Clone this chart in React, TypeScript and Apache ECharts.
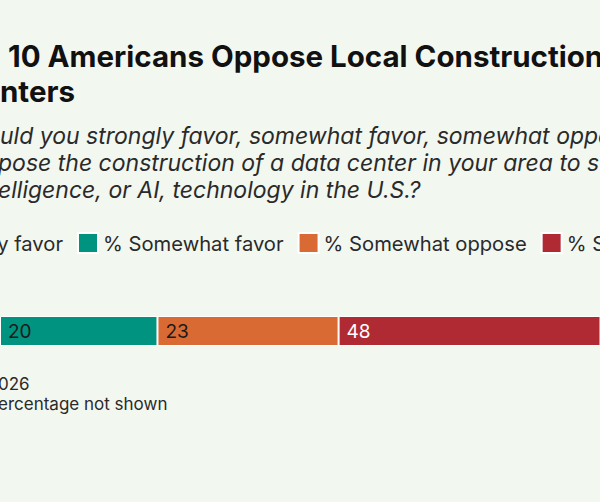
import React, { useEffect, useRef } from "react";
import * as echarts from "echarts";

const seriesNames = ["% Strongly favor", "% Somewhat favor", "% Somewhat oppose", "% Strongly oppose"];
const seriesValues = [7, 20, 23, 48];
const seriesColors = ["#5fb8a4", "#00937f", "#d96a33", "#b02a34"];
const labelColors = ["#1a1a1a", "#1a1a1a", "#1a1a1a", "#ffffff"];
const categories = ["All adults"];
const titleLines = ["10 Americans Oppose Local Construction", "nters"];
const subtitleLines = [
  "uld you strongly favor, somewhat favor, somewhat oppo",
  "pose the construction of a data center in your area to s",
  "elligence, or AI, technology in the U.S.?",
];
const footerLines = ["026", "ercentage not shown"];

const BG = "#f2f7f0";
const FONT = "Inter";

function measure(text: string, font: string): number {
  const c = document.createElement("canvas").getContext("2d");
  if (!c) return text.length * 10;
  c.font = font;
  return c.measureText(text).width;
}

export default function App() {
  const ref = useRef<HTMLDivElement>(null);
  useEffect(() => {
    if (!ref.current) return;
    const chart = echarts.init(ref.current, null, { renderer: "svg" });
    const legendFontSize = 20.2;
    const firstW = measure(seriesNames[0], `${legendFontSize}px ${FONT}`);
    const iconW = 20;
    const gap = 14;
    const legendLeft = 76 - (iconW + 5 + firstW + gap);

    chart.setOption({
      animation: false,
      backgroundColor: BG,
      graphic: [
        ...titleLines.map((t, i) => ({
          type: "text",
          left: i === 0 ? 8 : 0,
          top: i === 0 ? 41 : 76,
          style: { text: t, font: `bold 29.5px ${FONT}`, fill: "#111111" },
        })),
        ...subtitleLines.map((t, i) => ({
          type: "text",
          left: i === 0 ? 0 : -2,
          top: 124 + i * 27,
          style: { text: t, font: `italic 23px ${FONT}`, fill: "#2a2a2a" },
        })),
        ...footerLines.map((t, i) => ({
          type: "text",
          left: -2,
          top: 375 + i * 20,
          style: { text: t, font: `17px ${FONT}`, fill: "#2a2a2a" },
        })),
      ],
      legend: {
        left: legendLeft,
        top: 232,
        width: 2000,
        padding: 0,
        itemWidth: iconW,
        itemHeight: 20,
        itemGap: gap,
        icon: "rect",
        selectedMode: false,
        textStyle: { fontFamily: FONT, fontSize: legendFontSize, color: "#2a2a2a", padding: [0, 0, 0, 0] },
        data: seriesNames,
      },
      grid: { left: 0, right: 0, top: 316, height: 30, containLabel: false },
      xAxis: {
        type: "value",
        min: seriesValues[0],
        max: seriesValues[0] + 76.2,
        show: false,
      },
      yAxis: { type: "category", data: categories, show: false },
      series: seriesNames.map((name, i) => ({
        name,
        type: "bar",
        stack: "total",
        barWidth: 30,
        clip: true,
        data: [seriesValues[i]],
        itemStyle: { color: seriesColors[i], borderColor: "#ffffff", borderWidth: 1 },
        label: {
          show: i > 0,
          position: "insideLeft",
          distance: 8,
          fontFamily: FONT,
          fontSize: 19,
          color: labelColors[i],
        },
      })),
    });
    return () => chart.dispose();
  }, []);
  return <div ref={ref} style={{ width: 600, height: 502, position: "absolute", left: 0, top: 0 }} />;
}
